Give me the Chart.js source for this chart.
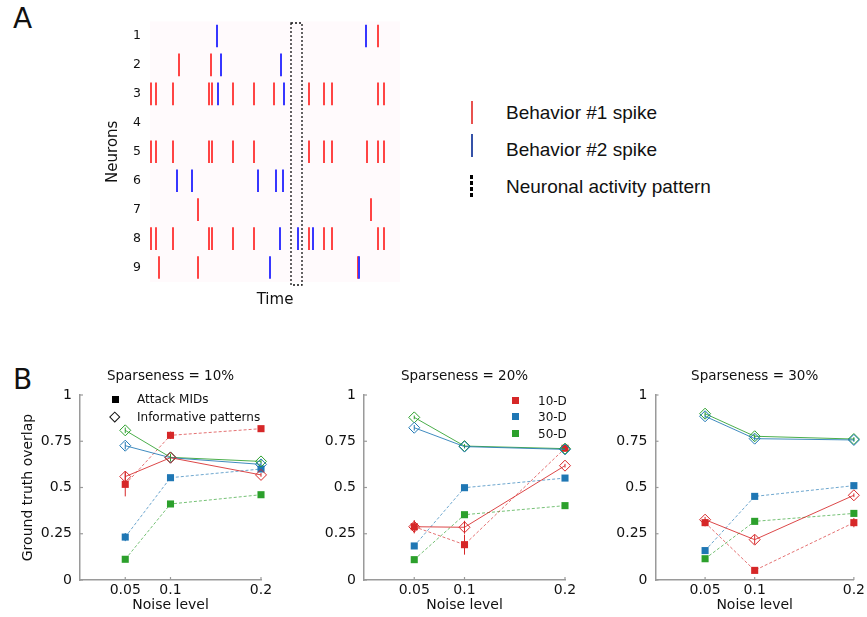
<!DOCTYPE html>
<html>
<head>
<meta charset="utf-8">
<script src="https://cdn.jsdelivr.net/npm/chart.js@4.4.1/dist/chart.umd.min.js"></script>
<style>
  body { margin: 0; background: #fff; }
  #page { position: relative; width: 867px; height: 617px; overflow: hidden; font-family: 'DejaVu Sans', sans-serif; color: #111; }
  canvas { position: absolute; }
  .lbl { position: absolute; white-space: nowrap; }
  .letter { font-size: 28px; line-height: 28px; }
  .legA { font-family: 'Liberation Sans', Arial, sans-serif; font-size: 19px; line-height: 22px; }
  .legB { font-size: 12px; line-height: 14px; }
  .mark { position: absolute; }
</style>
</head>
<body>
<div id="page">
  <div class="lbl letter" style="left:13px;top:5px">A</div>
  <div class="lbl letter" style="left:13px;top:366px">B</div>

  <canvas id="raster" width="320" height="305" style="left:100px;top:5px"></canvas>

  <!-- legend of panel A -->
  <div class="mark" style="left:471px;top:101px;width:2px;height:23px;background:#e8524f"></div>
  <div class="lbl legA" style="left:506px;top:102px">Behavior #1 spike</div>
  <div class="mark" style="left:471px;top:134px;width:2px;height:23px;background:#3552a8"></div>
  <div class="lbl legA" style="left:506px;top:139px">Behavior #2 spike</div>
  <div class="mark" style="left:470px;top:175px;width:3px;height:22px;background:repeating-linear-gradient(to bottom,#000 0 3.5px,transparent 3.5px 6px)"></div>
  <div class="lbl legA" style="left:506px;top:176px">Neuronal activity pattern</div>

  <canvas id="p1" width="280" height="257" style="left:0;top:360px"></canvas>
  <canvas id="p2" width="290" height="257" style="left:290px;top:360px"></canvas>
  <canvas id="p3" width="287" height="257" style="left:580px;top:360px"></canvas>

  <!-- legends of panel B -->
  <div class="mark" style="left:111.5px;top:395.8px;width:7px;height:7px;background:#000"></div>
  <div class="lbl legB" style="left:137px;top:392px">Attack MIDs</div>
  <div class="mark" style="left:111.2px;top:413px;width:5.5px;height:5.5px;border:1px solid #111;transform:rotate(45deg)"></div>
  <div class="lbl legB" style="left:137px;top:409.5px">Informative patterns</div>

  <div class="mark" style="left:512.2px;top:397.2px;width:7px;height:7px;background:#d62728"></div>
  <div class="lbl legB" style="left:538px;top:394px">10-D</div>
  <div class="mark" style="left:512.2px;top:413.2px;width:7px;height:7px;background:#1f77b4"></div>
  <div class="lbl legB" style="left:538px;top:410px">30-D</div>
  <div class="mark" style="left:512.2px;top:429.8px;width:7px;height:7px;background:#2ca02c"></div>
  <div class="lbl legB" style="left:538px;top:426.5px">50-D</div>
</div>

<script>
// ---- Panel A: spike raster ----
const neuronIds = [1, 2, 3, 4, 5, 6, 7, 8, 9];
const behavior1Spikes = [
  [228],
  [29, 61],
  [1, 6, 23, 59, 62, 83, 104, 124, 159, 174, 182, 228, 234],
  [],
  [1, 6, 23, 59, 62, 83, 104, 159, 174, 182, 217, 228, 234],
  [],
  [48, 221],
  [1, 6, 23, 59, 62, 83, 104, 159, 174, 182, 228, 234],
  [9, 48, 208]
];
const behavior2Spikes = [
  [67, 216],
  [71, 131],
  [68, 134],
  [],
  [],
  [27, 42, 108, 126, 133],
  [],
  [130, 148, 163],
  [120, 209]
];
const patternWindow = [141, 152];

// ---- Panel B: ground truth overlap ----
const noiseLevels = [0.05, 0.1, 0.2];
const overlapTicks = [0, 0.25, 0.5, 0.75, 1];

// Sparseness = 10%
const s10Mids10D = [0.517, 0.782, 0.818];
const s10Mids30D = [0.232, 0.553, 0.600];
const s10Mids50D = [0.112, 0.411, 0.461];
const s10Pats10D = [0.559, 0.661, 0.568];
const s10Pats30D = [0.726, 0.661, 0.625];
const s10Pats50D = [0.809, 0.663, 0.641];
const s10Mids10DErr = [0.065, 0.02, 0.01];
const s10Mids30DErr = [0.022, 0.01, 0.01];
const s10Mids50DErr = [0.01, 0.01, 0.01];
const s10Pats10DErr = [0.03, 0.02, 0.01];
const s10Pats30DErr = [0.02, 0.02, 0.01];
const s10Pats50DErr = [0.015, 0.02, 0.01];

// Sparseness = 20%
const s20Mids10D = [0.288, 0.191, 0.712];
const s20Mids30D = [0.184, 0.499, 0.551];
const s20Mids50D = [0.110, 0.353, 0.402];
const s20Pats10D = [0.288, 0.285, 0.618];
const s20Pats30D = [0.823, 0.721, 0.706];
const s20Pats50D = [0.879, 0.724, 0.710];
const s20Mids10DErr = [0.036, 0.054, 0.015];
const s20Mids30DErr = [0.01, 0.01, 0.01];
const s20Mids50DErr = [0.01, 0.01, 0.01];
const s20Pats10DErr = [0.03, 0.035, 0.01];
const s20Pats30DErr = [0.015, 0.01, 0.01];
const s20Pats50DErr = [0.01, 0.01, 0.01];

// Sparseness = 30%
const s30Mids10D = [0.310, 0.052, 0.310];
const s30Mids30D = [0.159, 0.452, 0.510];
const s30Mids50D = [0.115, 0.317, 0.360];
const s30Pats10D = [0.326, 0.218, 0.458];
const s30Pats30D = [0.885, 0.764, 0.757];
const s30Pats50D = [0.899, 0.777, 0.762];
const s30Mids10DErr = [0.02, 0.01, 0.025];
const s30Mids30DErr = [0.01, 0.01, 0.01];
const s30Mids50DErr = [0.01, 0.01, 0.01];
const s30Pats10DErr = [0.015, 0.025, 0.01];
const s30Pats30DErr = [0.01, 0.01, 0.01];
const s30Pats50DErr = [0.01, 0.01, 0.01];

const FONT = 'DejaVu Sans';
const TEXT = '#111';
const AXIS = '#9a9a9a';
const RED = '#d62728', BLUE = '#1f77b4', GREEN = '#2ca02c';

function fade(hex, a) {
  const n = parseInt(hex.slice(1), 16);
  return `rgba(${n >> 16}, ${(n >> 8) & 255}, ${n & 255}, ${a})`;
}

/**
 * Raster plot
 */
function spikePoints(list) {
  const pts = [];
  list.forEach((times, i) => times.forEach(t => pts.push({ x: t, y: neuronIds[i] })));
  return pts;
}

const rasterBackground = {
  id: 'rasterBackground',
  beforeDatasetsDraw(chart) {
    const { ctx, chartArea: a } = chart;
    ctx.save();
    ctx.fillStyle = 'rgb(255, 250, 252)';
    ctx.fillRect(a.left, a.top, a.right - a.left, a.bottom - a.top);
    ctx.restore();
  },
  afterDatasetsDraw(chart) {
    const { ctx, chartArea: a, scales: { x } } = chart;
    const x0 = x.getPixelForValue(patternWindow[0]);
    const x1 = x.getPixelForValue(patternWindow[1]);
    ctx.save();
    ctx.strokeStyle = '#111';
    ctx.lineWidth = 1.3;
    ctx.setLineDash([2, 2]);
    ctx.strokeRect(x0, a.top + 1.5, x1 - x0, a.bottom - a.top + 1.5);
    ctx.restore();
  }
};

const rasterCanvas = document.getElementById('raster');
new Chart(rasterCanvas, {
  type: 'scatter',
  data: {
    datasets: [
      {
        label: 'Behavior #2 spike',
        data: spikePoints(behavior2Spikes),
        pointStyle: 'line', pointRotation: 90, pointRadius: 11.3,
        pointBorderColor: 'rgb(55, 55, 255)', pointBorderWidth: 2, clip: false
      },
      {
        label: 'Behavior #1 spike',
        data: spikePoints(behavior1Spikes),
        pointStyle: 'line', pointRotation: 90, pointRadius: 11.3,
        pointBorderColor: 'rgb(255, 68, 68)', pointBorderWidth: 2, clip: false
      }
    ]
  },
  options: {
    responsive: false,
    animation: false,
    layout: { padding: { left: 0, right: 20, top: 12, bottom: 0 } },
    plugins: { legend: { display: false }, tooltip: { enabled: false } },
    scales: {
      x: {
        type: 'linear', min: 0, max: 250,
        afterFit: s => { s.height = 28; },
        ticks: { display: false },
        grid: { display: false, drawTicks: false },
        border: { display: false },
        title: { display: true, text: 'Time', color: TEXT, font: { family: FONT, size: 15 }, padding: { top: 0, bottom: 1 } }
      },
      y: {
        type: 'linear', min: 0.5, max: 9.5, reverse: true,
        afterBuildTicks: s => { s.ticks = neuronIds.map(v => ({ value: v })); },
        afterFit: s => { s.width = 50; },
        ticks: { padding: 9, color: TEXT, font: { family: FONT, size: 12.5 } },
        grid: { display: false, drawTicks: false },
        border: { display: false },
        title: { display: true, text: 'Neurons', color: TEXT, font: { family: FONT, size: 15 }, padding: { top: 4, bottom: 0 } }
      }
    }
  },
  plugins: [rasterBackground]
});

/**
 * Overlap panels
 */
function points(values) {
  return noiseLevels.map((x, i) => ({ x, y: values[i] }));
}

function midsSeries(values, errors, color) {
  return {
    data: points(values), errors,
    showLine: true, borderColor: fade(color, 0.65), borderWidth: 1, borderDash: [3, 2],
    pointStyle: 'rect', pointRadius: 5, pointBackgroundColor: color,
    pointBorderColor: color, pointBorderWidth: 0, clip: false
  };
}

function patternSeries(values, errors, color) {
  return {
    data: points(values), errors,
    showLine: true, borderColor: fade(color, 0.85), borderWidth: 1,
    pointStyle: 'rectRot', pointRadius: 5.5, pointBackgroundColor: 'rgba(255,255,255,0)',
    pointBorderColor: color, pointBorderWidth: 1, clip: false
  };
}

const errorBars = {
  id: 'errorBars',
  beforeDatasetsDraw(chart) {
    const { ctx, scales: { x, y } } = chart;
    chart.data.datasets.forEach(ds => {
      if (!ds.errors) return;
      ctx.save();
      ctx.strokeStyle = ds.pointBorderColor;
      ctx.lineWidth = 1;
      ds.data.forEach((p, i) => {
        const px = x.getPixelForValue(p.x);
        ctx.beginPath();
        ctx.moveTo(px, y.getPixelForValue(p.y - ds.errors[i]));
        ctx.lineTo(px, y.getPixelForValue(p.y + ds.errors[i]));
        ctx.stroke();
      });
      ctx.restore();
    });
  }
};

const innerTicks = {
  id: 'innerTicks',
  afterDraw(chart) {
    const { ctx, chartArea: a, scales: { x, y } } = chart;
    ctx.save();
    ctx.strokeStyle = AXIS;
    ctx.lineWidth = 1.2;
    y.ticks.forEach(t => {
      const py = y.getPixelForValue(t.value);
      ctx.beginPath(); ctx.moveTo(a.left, py); ctx.lineTo(a.left + 3, py); ctx.stroke();
    });
    x.ticks.forEach(t => {
      const px = x.getPixelForValue(t.value);
      ctx.beginPath(); ctx.moveTo(px, a.bottom); ctx.lineTo(px, a.bottom - 3); ctx.stroke();
    });
    ctx.restore();
  }
};

function makePanel(id, title, datasets, area, showYTitle) {
  const canvas = document.getElementById(id);
  new Chart(canvas, {
    type: 'scatter',
    data: { datasets },
    options: {
      responsive: false,
      animation: false,
      layout: { padding: { left: 0, right: canvas.width - area.right, top: 0, bottom: 0 } },
      plugins: {
        legend: { display: false },
        tooltip: { enabled: false },
        title: {
          display: true, text: title, fullSize: false, color: TEXT,
          font: { family: FONT, size: 13.5, weight: 'normal' },
          padding: { top: 8, bottom: 10.8 }
        }
      },
      scales: {
        x: {
          type: 'linear', min: 0, max: 0.2,
          afterBuildTicks: s => { s.ticks = noiseLevels.map(v => ({ value: v })); },
          afterFit: s => { s.height = canvas.height - area.bottom; },
          ticks: { padding: 2, color: TEXT, font: { family: FONT, size: 14 }, maxRotation: 0, autoSkip: false, callback: v => String(v) },
          grid: { display: false, drawTicks: false },
          border: { color: AXIS, width: 1.5 },
          title: { display: true, text: 'Noise level', color: TEXT, font: { family: FONT, size: 14 }, padding: { top: 0, bottom: 3.6 } }
        },
        y: {
          type: 'linear', min: 0, max: 1,
          afterBuildTicks: s => { s.ticks = overlapTicks.map(v => ({ value: v })); },
          afterFit: s => { s.width = area.left; },
          ticks: { padding: 8, color: TEXT, font: { family: FONT, size: 14 }, callback: v => String(v) },
          grid: { display: false, drawTicks: false },
          border: { color: AXIS, width: 1.5 },
          title: { display: showYTitle, text: 'Ground truth overlap', color: TEXT, font: { family: FONT, size: 14 }, padding: { top: 20, bottom: 0 } }
        }
      }
    },
    plugins: [errorBars, innerTicks]
  });
}

makePanel('p1', 'Sparseness = 10%', [
  patternSeries(s10Pats10D, s10Pats10DErr, RED),
  patternSeries(s10Pats30D, s10Pats30DErr, BLUE),
  patternSeries(s10Pats50D, s10Pats50DErr, GREEN),
  midsSeries(s10Mids10D, s10Mids10DErr, RED),
  midsSeries(s10Mids30D, s10Mids30DErr, BLUE),
  midsSeries(s10Mids50D, s10Mids50DErr, GREEN)
], { left: 80, right: 261, bottom: 220 }, true);

makePanel('p2', 'Sparseness = 20%', [
  patternSeries(s20Pats10D, s20Pats10DErr, RED),
  patternSeries(s20Pats30D, s20Pats30DErr, BLUE),
  patternSeries(s20Pats50D, s20Pats50DErr, GREEN),
  midsSeries(s20Mids10D, s20Mids10DErr, RED),
  midsSeries(s20Mids30D, s20Mids30DErr, BLUE),
  midsSeries(s20Mids50D, s20Mids50DErr, GREEN)
], { left: 74, right: 275, bottom: 220 }, false);

makePanel('p3', 'Sparseness = 30%', [
  patternSeries(s30Pats10D, s30Pats10DErr, RED),
  patternSeries(s30Pats30D, s30Pats30DErr, BLUE),
  patternSeries(s30Pats50D, s30Pats50DErr, GREEN),
  midsSeries(s30Mids10D, s30Mids10DErr, RED),
  midsSeries(s30Mids30D, s30Mids30DErr, BLUE),
  midsSeries(s30Mids50D, s30Mids50DErr, GREEN)
], { left: 75.5, right: 276, bottom: 220 }, false);
</script>
</body>
</html>
